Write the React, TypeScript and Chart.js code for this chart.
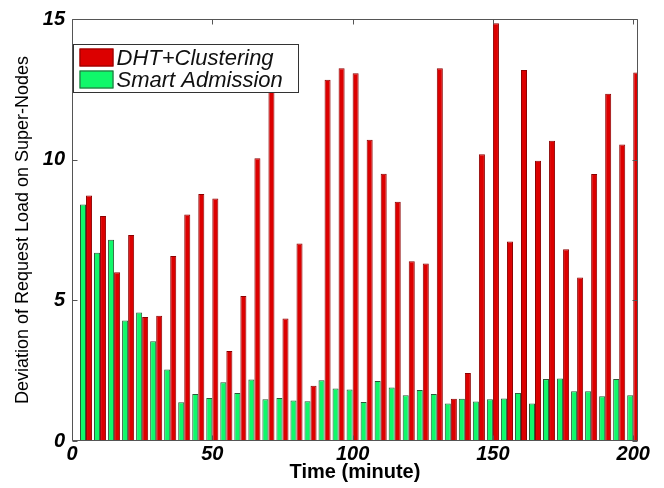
import React, { useEffect, useRef } from "react";
import { Chart, registerables } from "chart.js";

Chart.register(...registerables);

// ---- data ----
const times = [
  5, 10, 15, 20, 25, 30, 35, 40, 45, 50,
  55, 60, 65, 70, 75, 80, 85, 90, 95, 100,
  105, 110, 115, 120, 125, 130, 135, 140, 145, 150,
  155, 160, 165, 170, 175, 180, 185, 190, 195, 200,
];

const dhtClustering = [
  8.73, 8.0, 6.0, 7.32, 4.41, 4.45, 6.58, 8.05, 8.78, 8.62,
  3.2, 5.15, 10.05, 12.5, 4.35, 7.02, 1.96, 12.84, 13.25, 13.07,
  10.71, 9.5, 8.5, 6.39, 6.31, 13.25, 1.5, 2.42, 10.19, 14.85,
  7.09, 13.19, 9.96, 10.67, 6.82, 5.81, 9.49, 12.34, 10.54, 13.1,
];

const smartAdmission = [
  8.41, 6.69, 7.15, 4.28, 4.57, 3.55, 2.54, 1.38, 1.67, 1.53,
  2.09, 1.71, 2.19, 1.48, 1.53, 1.44, 1.41, 2.16, 1.87, 1.83,
  1.39, 2.13, 1.9, 1.63, 1.81, 1.67, 1.33, 1.5, 1.4, 1.48,
  1.51, 1.71, 1.33, 2.2, 2.22, 1.77, 1.77, 1.59, 2.2, 1.63,
];

const xTickValues = [0, 50, 100, 150, 200];
const yTickValues = [0, 5, 10, 15];
const seriesNames = ["DHT+Clustering", "Smart Admission"];
const xTitle = "Time (minute)";
const yTitle = "Deviation of Request Load on Super-Nodes";

// ---- styles ----
const RED = "#dc0000";
const RED_EDGE = "#8c0000";
const GREEN = "#10f86a";
const GREEN_EDGE = "#2b5a38";
const AXIS = "#555555";
const FONT = "'Liberation Sans', Arial, sans-serif";

export default function App() {
  const ref = useRef<HTMLCanvasElement | null>(null);

  useEffect(() => {
    if (!ref.current) return;

    const framePlugin = {
      id: "matlabFrame",
      afterDatasetsDraw(chart: any) {
        const { ctx, chartArea: a, scales } = chart;
        ctx.save();
        ctx.strokeStyle = AXIS;
        ctx.lineWidth = 1;
        const L = Math.round(a.left) + 0.5;
        const R = Math.round(a.right) - 0.5;
        const T = Math.round(a.top) + 0.5;
        const B = Math.round(a.bottom) - 0.5;
        ctx.beginPath();
        ctx.rect(L, T, R - L, B - T);
        ctx.stroke();
        const tl = 5;
        ctx.beginPath();
        xTickValues.forEach((v) => {
          const px = Math.round(scales.x.getPixelForValue(v)) + 0.5;
          ctx.moveTo(px, B);
          ctx.lineTo(px, B - tl);
          ctx.moveTo(px, T);
          ctx.lineTo(px, T + tl);
        });
        yTickValues.forEach((v) => {
          const py = Math.round(scales.y.getPixelForValue(v)) + 0.5;
          ctx.moveTo(L, py);
          ctx.lineTo(L + tl, py);
          ctx.moveTo(R, py);
          ctx.lineTo(R - tl, py);
        });
        ctx.stroke();
        ctx.restore();
      },
      afterDraw(chart: any) {
        const { ctx, chartArea: a } = chart;
        ctx.save();
        const bx = Math.round(a.left) + 1.5;
        const by = Math.round(a.top) + 25.5;
        const bw = 225;
        const bh = 48;
        ctx.fillStyle = "#ffffff";
        ctx.fillRect(bx, by, bw, bh);
        ctx.strokeStyle = "#333333";
        ctx.lineWidth = 1;
        ctx.strokeRect(bx, by, bw, bh);
        const rows = [
          { name: seriesNames[0], fill: RED, edge: RED_EDGE },
          { name: seriesNames[1], fill: GREEN, edge: GREEN_EDGE },
        ];
        ctx.font = `italic 22px ${FONT}`;
        ctx.textBaseline = "middle";
        ctx.textAlign = "left";
        rows.forEach((r, i) => {
          const sy = by + 4 + i * 22;
          ctx.fillStyle = r.fill;
          ctx.fillRect(bx + 6, sy, 34, 18);
          ctx.strokeStyle = r.edge;
          ctx.strokeRect(bx + 6.5, sy + 0.5, 33, 17);
          ctx.fillStyle = "#111111";
          ctx.fillText(r.name, bx + 43, sy + 10);
        });
        ctx.restore();
      },
    };

    const chart = new Chart(ref.current, {
      type: "bar",
      data: {
        datasets: [
          {
            label: seriesNames[1],
            data: times.map((t, i) => ({ x: t, y: smartAdmission[i] })),
            backgroundColor: GREEN,
            borderColor: GREEN_EDGE,
            borderWidth: 1,
            categoryPercentage: 0.86,
            barPercentage: 1,
          },
          {
            label: seriesNames[0],
            data: times.map((t, i) => ({ x: t, y: dhtClustering[i] })),
            backgroundColor: RED,
            borderColor: RED_EDGE,
            borderWidth: 1,
            categoryPercentage: 0.86,
            barPercentage: 1,
          },
        ],
      } as any,
      options: {
        animation: false,
        responsive: false,
        layout: { padding: { top: 18, right: 26, left: 0, bottom: 0 } },
        plugins: {
          legend: { display: false },
          tooltip: { enabled: false },
        },
        scales: {
          x: {
            type: "linear",
            min: 0,
            max: 201.7,
            offset: false,
            grid: { display: false, drawTicks: false },
            border: { display: false },
            ticks: {
              color: "#000000",
              padding: 1,
              maxRotation: 0,
              font: { family: FONT, size: 20, weight: "bold", style: "italic" },
            },
            afterBuildTicks: (s: any) => {
              s.ticks = xTickValues.map((v) => ({ value: v }));
            },
            afterFit: (s: any) => {
              s.height = 47;
            },
            title: {
              display: true,
              text: xTitle,
              color: "#000000",
              padding: { top: 0, bottom: 4 },
              font: { family: FONT, size: 20, weight: "bold" },
            },
          },
          y: {
            type: "linear",
            min: 0,
            max: 15,
            grid: { display: false, drawTicks: false },
            border: { display: false },
            ticks: {
              color: "#000000",
              padding: 7,
              font: { family: FONT, size: 20, weight: "bold", style: "italic" },
            },
            afterBuildTicks: (s: any) => {
              s.ticks = yTickValues.map((v) => ({ value: v }));
            },
            afterFit: (s: any) => {
              s.width = 72;
            },
            title: {
              display: true,
              text: yTitle,
              color: "#000000",
              padding: { top: 12, bottom: 0 },
              font: { family: FONT, size: 18, weight: "normal" },
            },
          },
        },
      } as any,
      plugins: [framePlugin],
    });

    return () => chart.destroy();
  }, []);

  return (
    <div
      style={{
        position: "fixed",
        left: 0,
        top: 0,
        width: 664,
        height: 488,
        background: "#ffffff",
      }}
    >
      <canvas ref={ref} width={664} height={488} style={{ display: "block" }} />
    </div>
  );
}
